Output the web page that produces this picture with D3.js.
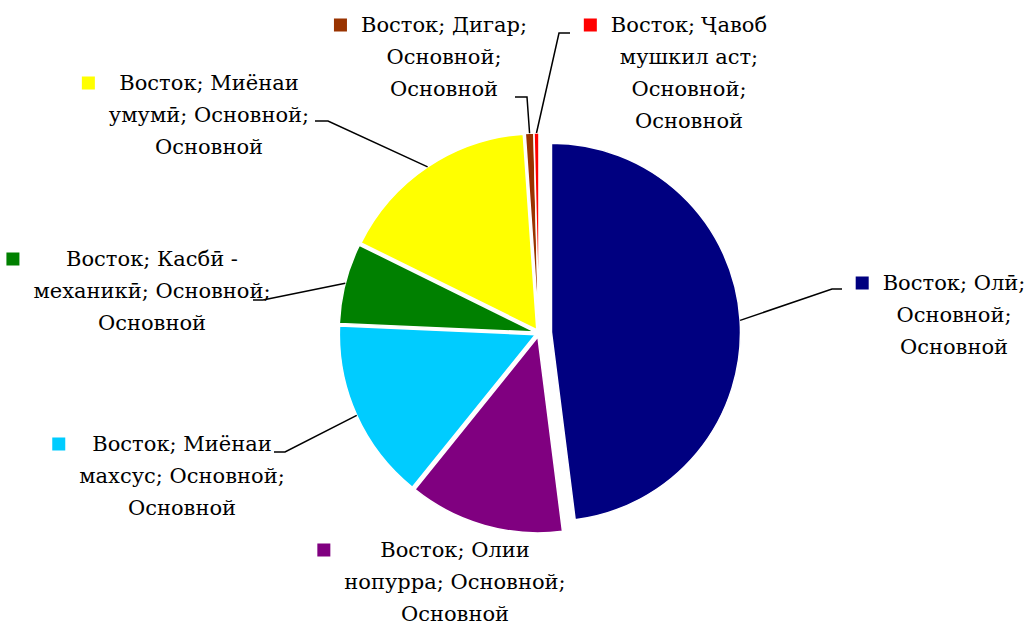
<!DOCTYPE html>
<html><head><meta charset="utf-8">
<script src="https://cdn.jsdelivr.net/npm/d3@7"></script>
<style>body{margin:0;background:#fff;overflow:hidden}</style>
</head><body>
<svg id="c" width="1031" height="628"></svg>
<script>
// ---- data ----
const region = "Восток";
const level = "Основной";
const categories = ["Олӣ", "Олии нопурра", "Миёнаи махсус", "Касбӣ - механикӣ", "Миёнаи умумӣ", "Дигар", "Ҷавоб мушкил аст"];
const values = [48.0, 12.8, 14.9, 6.6, 16.6, 0.7, 0.4];
const colors = ["#000080", "#800080", "#00CCFF", "#008000", "#FFFF00", "#993300", "#FF0000"];
const wordsPerLine = [[2,1,1],[2,2,1],[2,2,1],[3,2,1],[2,2,1],[2,1,1],[2,2,1,1]];

// ---- layout ----
const cx = 539, cy = 333;
const labelPos = [[954,283],[455,550],[182,444],[152,259],[209,83],[444,25],[689,25]];
const elbows = [[[832,289],[842,289]], null, [[285,452],[274,452]], [[263,300],[253,300]], [[328,121],[315,121]], [[527,97],[515,97]], [[559,33],[570,33]]];
const FONT = "'DejaVu Serif', serif", FS = 21, LH = 32, KEY = 13;

const svg = d3.select("#c");
const pie = d3.pie().sort(null).value(d => d)(values);
const radius = i => i === 0 ? 189 : 196;
const explode = i => i === 0 ? 12.5 : 4;

const g = svg.append("g").attr("transform", `translate(${cx},${cy})`);
pie.forEach((p, i) => {
  const mid = (p.startAngle + p.endAngle) / 2;
  const e = explode(i);
  const arc = d3.arc().innerRadius(0).outerRadius(radius(i));
  g.append("path")
    .attr("d", arc(p))
    .attr("transform", `translate(${e*Math.sin(mid)},${-e*Math.cos(mid)})`)
    .attr("fill", colors[i])
    .attr("stroke", "#fff").attr("stroke-width", 1.5).attr("stroke-linejoin", "miter");
});

// leader lines
pie.forEach((p, i) => {
  if (!elbows[i]) return;
  const mid = (p.startAngle + p.endAngle) / 2;
  const rr = radius(i) + explode(i);
  const sx = cx + rr * Math.sin(mid), sy = cy - rr * Math.cos(mid);
  const pts = [[sx, sy], ...elbows[i]];
  svg.append("path").attr("d", d3.line()(pts))
    .attr("fill", "none").attr("stroke", "#000").attr("stroke-width", 1.5);
});

// labels
pie.forEach((p, i) => {
  const words = (region + "; " + categories[i] + "; " + level + "; " + level).split(" ");
  const lines = []; let k = 0;
  wordsPerLine[i].forEach(n => { lines.push(words.slice(k, k + n).join(" ")); k += n; });
  const [lx, ly] = labelPos[i];
  const lg = svg.append("g");
  let maxW = 0;
  lines.forEach((t, j) => {
    const tx = lg.append("text").text(t)
      .attr("x", lx).attr("y", ly + j * LH + 7)
      .attr("text-anchor", "middle")
      .attr("font-family", FONT).attr("font-size", FS).attr("fill", "#000");
    maxW = Math.max(maxW, tx.node().getComputedTextLength());
  });
  lg.insert("rect", "text")
    .attr("x", lx - maxW / 2 - 14 - KEY).attr("y", ly - KEY / 2)
    .attr("width", KEY).attr("height", KEY).attr("fill", colors[i]);
});
</script>
</body></html>
